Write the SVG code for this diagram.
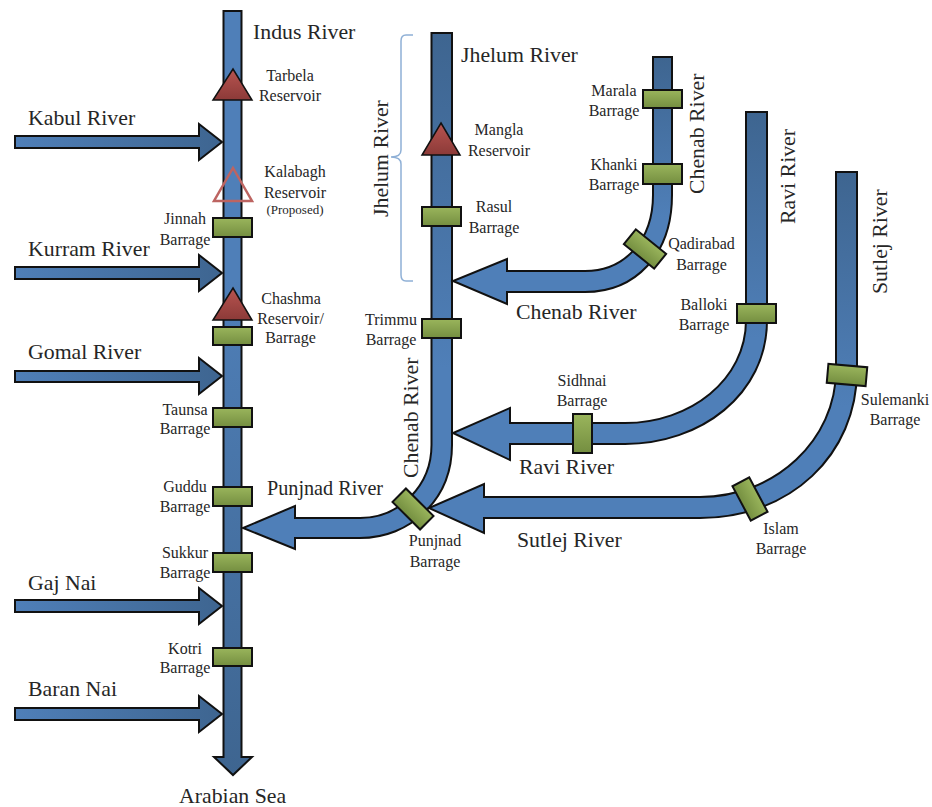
<svg xmlns="http://www.w3.org/2000/svg" width="932" height="807" viewBox="0 0 932 807">
<style>
text{font-family:"Liberation Serif","Times New Roman",serif;fill:#262626}
.b{font-size:21.8px}
.s{font-size:16px;text-anchor:middle}
.t{font-size:13px;text-anchor:middle}
.r{stroke:#111;stroke-width:2;stroke-linejoin:miter}
.g{fill:url(#green);stroke:#111;stroke-width:2}
.w{fill:url(#red);stroke:#111;stroke-width:1.5}
</style>
<defs>
<linearGradient id="h" x1="0" x2="1" y1="0" y2="0"><stop offset="0" stop-color="#4f7fb8"/><stop offset="1" stop-color="#3e6590"/></linearGradient>
<linearGradient id="indus" x1="0" x2="0" y1="0" y2="1"><stop offset="0" stop-color="#4f7fb8"/><stop offset="0.35" stop-color="#4f7fb8"/><stop offset="1" stop-color="#3e6590"/></linearGradient>
<linearGradient id="d" x1="0" x2="0" y1="0" y2="1"><stop offset="0" stop-color="#3e6590"/><stop offset="0.65" stop-color="#4f7fb8"/><stop offset="1" stop-color="#4f7fb8"/></linearGradient>
<linearGradient id="green" x1="0" x2="0" y1="0" y2="1"><stop offset="0" stop-color="#9ab55c"/><stop offset="1" stop-color="#748e40"/></linearGradient>
<linearGradient id="red" x1="0" x2="0" y1="0" y2="1"><stop offset="0" stop-color="#b85450"/><stop offset="1" stop-color="#8c3a38"/></linearGradient>
</defs>
<g id="connectors">
<path id="indus-river" class="r" fill="url(#indus)" d="M223.500 11H241.500V757H252L233 775L214 757H223.500Z"/>
<path id="jhelum-punjnad" class="r" fill="url(#d)" d="M431.500 33H452V445C452 500 410 538 360 538H295V549L243 528L295 506V518H360C400 518 431.500 485 431.500 445Z"/>
<path id="chenab" class="r" fill="url(#d)" d="M653 57H672V195C672 255 635 292 585 292H507V304L453 281L507 259V271H585C625 271 653 240 653 195Z"/>
<path id="ravi" class="r" fill="url(#d)" d="M746 112H767V320C767 395 700 444 625 444H510V460L453 433L510 408V423H625C690 423 746 380 746 320Z"/>
<path id="sutlej" class="r" fill="url(#d)" d="M836 172H857V370C857 455 790 518 700 518H484V533L429 508L484 484V497H700C775 497 836 440 836 370Z"/>
<path id="kabul" class="r" fill="url(#h)" d="M15 136H199V124L222 142L199 160V148H15Z"/>
<path id="kurram" class="r" fill="url(#h)" d="M15 267H199V255L222 273L199 291V279H15Z"/>
<path id="gomal" class="r" fill="url(#h)" d="M15 371H199V358L222 376L199 394V382H15Z"/>
<path id="gaj" class="r" fill="url(#h)" d="M15 600H199V588L222 606L199 624V612H15Z"/>
<path id="baran" class="r" fill="url(#h)" d="M15 708H199V696L222 714L199 732V720H15Z"/>
<path id="brace" fill="none" stroke="#8fb0d6" stroke-width="1.500" d="M413 35H406Q401 35 401 41V150Q401 157 391 157Q401 157 401 164V275Q401 281 406 281H413"/>
</g>
<g id="labels">
<text class="b" x="253" y="39">Indus River</text>
<text class="b" x="28" y="125">Kabul River</text>
<text class="b" x="28" y="256">Kurram River</text>
<text class="b" x="28" y="359">Gomal River</text>
<text class="b" x="28" y="590">Gaj Nai</text>
<text class="b" x="28" y="696">Baran Nai</text>
<text class="b" x="179" y="803">Arabian Sea</text>
<text class="b" x="461" y="62">Jhelum River</text>
<text class="b" transform="translate(388 217) rotate(-90)">Jhelum River</text>
<text class="b" transform="translate(704 194) rotate(-90)">Chenab River</text>
<text class="b" transform="translate(795 224) rotate(-90)">Ravi River</text>
<text class="b" transform="translate(887 294) rotate(-90)">Sutlej River</text>
<text class="b" transform="translate(418 478) rotate(-90)">Chenab River</text>
<text class="b" x="516" y="319">Chenab River</text>
<text class="b" x="519" y="474">Ravi River</text>
<text class="b" x="517" y="547">Sutlej River</text>
<text style="font-size:20.2px" x="267" y="495">Punjnad River</text>
</g>
<g id="tarbela"><polygon class="w" points="233,69 252,100 213,100"/><text class="s" x="290" y="81">Tarbela</text><text class="s" x="290" y="101">Reservoir</text></g>
<g id="kalabagh"><polygon fill="none" stroke="#bd6461" stroke-width="2.500" points="233,168 252,201 214,201"/><text class="s" x="295" y="177">Kalabagh</text><text class="s" x="295" y="198">Reservoir</text><text class="t" x="295" y="214">(Proposed)</text></g>
<g id="jinnah"><rect class="g" x="213" y="218" width="39" height="19"/><text class="s" x="185" y="224">Jinnah</text><text class="s" x="185" y="245">Barrage</text></g>
<g id="chashma"><polygon class="w" points="233,288 252,320 213,320"/><rect class="g" x="213" y="327" width="39" height="18"/><text class="s" x="291" y="304">Chashma</text><text class="s" x="290.500" y="324">Reservoir/</text><text class="s" x="290.500" y="343">Barrage</text></g>
<g id="taunsa"><rect class="g" x="213" y="408" width="39" height="19"/><text class="s" x="185" y="415">Taunsa</text><text class="s" x="185" y="434">Barrage</text></g>
<g id="guddu"><rect class="g" x="213" y="487" width="39" height="19"/><text class="s" x="185" y="492">Guddu</text><text class="s" x="185" y="512">Barrage</text></g>
<g id="sukkur"><rect class="g" x="213" y="553" width="39" height="19"/><text class="s" x="185" y="558">Sukkur</text><text class="s" x="185" y="578">Barrage</text></g>
<g id="kotri"><rect class="g" x="213" y="648" width="39" height="18"/><text class="s" x="185" y="654">Kotri</text><text class="s" x="185" y="673">Barrage</text></g>
<g id="mangla"><polygon class="w" points="441,123 460,155 422,155"/><text class="s" x="499" y="135">Mangla</text><text class="s" x="499" y="156">Reservoir</text></g>
<g id="rasul"><rect class="g" x="422" y="207" width="39" height="19"/><text class="s" x="494" y="212">Rasul</text><text class="s" x="494" y="233">Barrage</text></g>
<g id="trimmu"><rect class="g" x="422" y="319" width="39" height="19"/><text class="s" x="391" y="325">Trimmu</text><text class="s" x="391" y="345">Barrage</text></g>
<g id="marala"><rect class="g" x="643" y="90" width="39" height="18"/><text class="s" x="614" y="96">Marala</text><text class="s" x="614" y="116">Barrage</text></g>
<g id="khanki"><rect class="g" x="643" y="164" width="39" height="20"/><text class="s" x="614" y="170">Khanki</text><text class="s" x="614" y="190">Barrage</text></g>
<g id="qadirabad"><rect class="g" x="-19.500" y="-9.500" width="39" height="19" transform="translate(645 249) rotate(39)"/><text class="s" x="701.500" y="249">Qadirabad</text><text class="s" x="701.500" y="270">Barrage</text></g>
<g id="balloki"><rect class="g" x="737" y="304" width="39" height="19"/><text class="s" x="704" y="310">Balloki</text><text class="s" x="704" y="330">Barrage</text></g>
<g id="sidhnai"><rect class="g" x="573" y="414" width="19" height="39"/><text class="s" x="582" y="386">Sidhnai</text><text class="s" x="582" y="406">Barrage</text></g>
<g id="sulemanki"><rect class="g" x="-19.500" y="-9.500" width="39" height="19" transform="translate(847 375) rotate(5)"/><text class="s" x="895" y="405">Sulemanki</text><text class="s" x="895" y="425">Barrage</text></g>
<g id="islam"><rect class="g" x="-19.500" y="-9.500" width="39" height="19" transform="translate(750 499) rotate(62)"/><text class="s" x="781" y="534">Islam</text><text class="s" x="781" y="554">Barrage</text></g>
<g id="punjnad"><rect class="g" x="-19.500" y="-9.500" width="39" height="19" transform="translate(413 509) rotate(45)"/><text class="s" x="435" y="546">Punjnad</text><text class="s" x="435" y="567">Barrage</text></g>
</svg>
